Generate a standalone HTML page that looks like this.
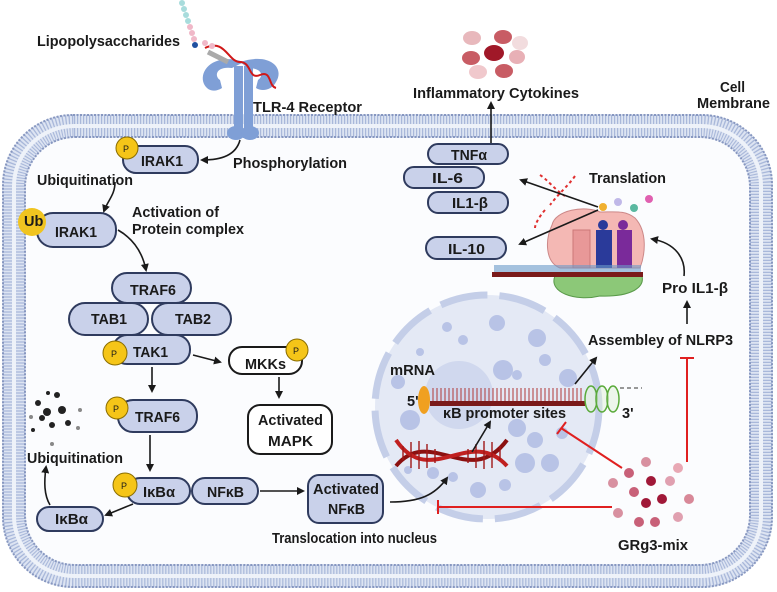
<!DOCTYPE html>
<html><head><meta charset="utf-8"><style>
html,body{margin:0;padding:0;background:#fff}
svg{display:block}
text{font-family:"Liberation Sans",sans-serif;font-weight:bold;fill:#1a1a1a;font-size:14.5px}
.n{fill:#c9d1ea;stroke:#2f3b5e;stroke-width:2}
.w{fill:#fff;stroke:#1a1a1a;stroke-width:2}
.a{stroke:#1a1a1a;stroke-width:1.6;fill:none;marker-end:url(#ah)}
.r{stroke:#e02020;stroke-width:2;fill:none}
.p{fill:#f5c518;stroke:#8a6d00;stroke-width:1}
.pt{font-size:9px;font-weight:normal}
</style></head><body>
<svg width="777" height="592" viewBox="0 0 777 592" xmlns="http://www.w3.org/2000/svg">
<defs>
<marker id="ah" markerWidth="8" markerHeight="8" refX="6" refY="4" orient="auto" markerUnits="userSpaceOnUse"><path d="M0,0 L8,4 L0,8 z" fill="#1a1a1a"/></marker>
</defs>
<!-- membrane -->
<rect x="14" y="126" width="747" height="450" rx="60" fill="#fbfcfe" stroke="#dde4f2" stroke-width="24"/>
<rect x="14" y="126" width="747" height="450" rx="60" fill="none" stroke="#a9b8da" stroke-width="22" stroke-dasharray="1.2 1.8"/>
<rect x="14" y="126" width="747" height="450" rx="60" fill="none" stroke="#eef2f9" stroke-width="4"/>
<rect x="3" y="115" width="769" height="472" rx="70" fill="none" stroke="#8797c0" stroke-width="2" stroke-dasharray="2 1.5"/>
<rect x="25" y="137" width="725" height="428" rx="50" fill="none" stroke="#8797c0" stroke-width="2" stroke-dasharray="2 1.5"/>

<!-- nucleus -->
<circle cx="487" cy="407" r="112" fill="#e4e9f5" stroke="#c4cee8" stroke-width="7" stroke-dasharray="48 12"/>
<circle cx="459" cy="395" r="34" fill="#d0d8ee"/>
<g fill="#b8c3e6">
<circle cx="447" cy="327" r="5"/><circle cx="497" cy="323" r="8"/><circle cx="537" cy="338" r="9"/><circle cx="463" cy="340" r="5"/><circle cx="545" cy="360" r="6"/>
<circle cx="503" cy="370" r="10"/><circle cx="517" cy="375" r="5"/><circle cx="568" cy="378" r="9"/><circle cx="398" cy="382" r="7"/>
<circle cx="410" cy="420" r="10"/><circle cx="517" cy="428" r="9"/><circle cx="535" cy="440" r="8"/><circle cx="562" cy="433" r="6"/>
<circle cx="525" cy="463" r="10"/><circle cx="550" cy="463" r="9"/><circle cx="433" cy="473" r="6"/><circle cx="453" cy="477" r="5"/>
<circle cx="478" cy="490" r="8"/><circle cx="505" cy="485" r="6"/><circle cx="408" cy="470" r="4"/><circle cx="420" cy="352" r="4"/>
</g>
<!-- mRNA in nucleus -->
<rect x="430" y="401" width="155" height="5" fill="#7a1a1a"/>
<g stroke="#b03838" stroke-width="1">
<path d="M433 388v13M437 388v13M441 388v13M445 388v13M449 388v13M453 388v13M457 388v13M461 388v13M465 388v13M469 388v13M473 388v13M477 388v13M481 388v13M485 388v13M489 388v13M493 388v13M497 388v13M501 388v13M505 388v13M509 388v13M513 388v13M517 388v13M521 388v13M525 388v13M529 388v13M533 388v13M537 388v13M541 388v13M545 388v13M549 388v13M553 388v13M557 388v13M561 388v13M565 388v13M569 388v13M573 388v13M577 388v13M581 388v13"/>
</g>
<ellipse cx="424" cy="400" rx="6" ry="14" fill="#f0a020"/>
<g fill="#dff0d8" fill-opacity="0.5" stroke="#5aaa3a" stroke-width="1.5"><ellipse cx="591" cy="399" rx="6" ry="13"/><ellipse cx="602" cy="399" rx="6" ry="13"/><ellipse cx="613" cy="399" rx="6" ry="13"/></g>
<path d="M620 388h22" stroke="#333" stroke-dasharray="4 3"/>
<text x="407" y="406" font-weight="normal" fill="#333">5'</text>
<text x="622" y="418" font-weight="normal" fill="#333">3'</text>
<text x="390" y="375" textLength="45" lengthAdjust="spacingAndGlyphs">mRNA</text>
<text x="443" y="418" textLength="123" lengthAdjust="spacingAndGlyphs">κB promoter sites</text>
<!-- DNA -->
<path d="M396 466 C430 425,470 490,507 440" stroke="#8b1010" stroke-width="4" fill="none"/>
<path d="M396 440 C430 490,470 425,507 466" stroke="#c02020" stroke-width="4" fill="none"/>
<g stroke="#a01818" stroke-width="1.4"><path d="M403 446v14M411 442v26M419 441v28M427 444v24M435 449v14M468 449v14M476 444v24M484 441v28M492 442v26M500 446v14"/></g>
<path class="a" d="M472 452 L490 422"/>
<path class="a" d="M390 502 C420 502,435 495,447 478"/>
<path class="a" d="M575 384 L596 358"/>

<!-- LPS / TLR4 -->
<g fill="#7f9fd6">
<path d="M244 62 C215 52,198 70,204 84 C208 92,216 92,222 88 L220 80 C214 76,216 66,232 68 Z"/>
<path d="M240 62 C270 52,285 68,276 82 C272 90,262 92,256 88 L258 80 C264 76,262 68,248 68 Z"/>
<rect x="234" y="66" width="9" height="65"/><rect x="244" y="66" width="9" height="65"/>
<ellipse cx="236" cy="133" rx="9" ry="7"/><ellipse cx="250" cy="133" rx="9" ry="7"/>
</g>
<path d="M208 52 L228 62" stroke="#aaa" stroke-width="5"/>
<path d="M205 48 C225 38,228 62,240 62 C252 62,248 80,260 75 C272 70,268 86,276 88" stroke="#d01818" stroke-width="2" fill="none"/>
<g fill="#a8dcdc"><circle cx="182" cy="3" r="3"/><circle cx="184" cy="9" r="3"/><circle cx="186" cy="15" r="3"/><circle cx="188" cy="21" r="3"/></g>
<g fill="#f0b8c8"><circle cx="190" cy="27" r="3"/><circle cx="192" cy="33" r="3"/><circle cx="194" cy="39" r="3"/><circle cx="205" cy="43" r="3"/><circle cx="212" cy="46" r="3"/></g>
<circle cx="195" cy="45" r="3" fill="#2050a0"/>
<text x="37" y="46" textLength="143" lengthAdjust="spacingAndGlyphs">Lipopolysaccharides</text>
<text x="253" y="112" textLength="109" lengthAdjust="spacingAndGlyphs">TLR-4 Receptor</text>

<!-- cytokines top -->
<g>
<ellipse cx="472" cy="38" rx="9" ry="7" fill="#e8b8bc"/><ellipse cx="503" cy="37" rx="9" ry="7" fill="#c85c64"/><ellipse cx="520" cy="43" rx="8" ry="7" fill="#f2dcde"/>
<ellipse cx="471" cy="58" rx="9" ry="7" fill="#c85c64"/><ellipse cx="494" cy="53" rx="10" ry="8" fill="#a01828"/><ellipse cx="517" cy="57" rx="8" ry="7" fill="#e8b0b6"/>
<ellipse cx="478" cy="72" rx="9" ry="7" fill="#f0c8cc"/><ellipse cx="504" cy="71" rx="9" ry="7" fill="#c85c64"/>
</g>
<text x="413" y="98" textLength="166" lengthAdjust="spacingAndGlyphs">Inflammatory Cytokines</text>
<path class="a" d="M491 145 L491 103"/>
<text x="720" y="92" textLength="25" lengthAdjust="spacingAndGlyphs">Cell</text>
<text x="697" y="108" textLength="73" lengthAdjust="spacingAndGlyphs">Membrane</text>

<!-- left pathway -->
<path class="a" d="M240 140 C236 155,222 160,202 160"/>
<rect class="n" x="123" y="146" width="75" height="27" rx="13"/><text x="141" y="166" textLength="42" lengthAdjust="spacingAndGlyphs">IRAK1</text>
<circle class="p" cx="127" cy="148" r="11"/><text x="123" y="152" class="pt">P</text>
<text x="233" y="168" textLength="114" lengthAdjust="spacingAndGlyphs">Phosphorylation</text>
<text x="37" y="185" textLength="96" lengthAdjust="spacingAndGlyphs">Ubiquitination</text>
<path class="a" d="M115 182 C115 195,108 200,104 211"/>
<rect class="n" x="37" y="213" width="79" height="34" rx="16"/><text x="55" y="237" textLength="42" lengthAdjust="spacingAndGlyphs">IRAK1</text>
<circle cx="32" cy="222" r="14" fill="#f0c420"/><text x="24" y="226" font-size="10" fill="#fff">Ub</text>
<text x="132" y="217" textLength="87" lengthAdjust="spacingAndGlyphs">Activation of</text>
<text x="132" y="234" textLength="112" lengthAdjust="spacingAndGlyphs">Protein complex</text>
<path class="a" d="M118 230 C132 238,142 250,146 270"/>
<rect class="n" x="112" y="273" width="79" height="30" rx="15"/><text x="130" y="295" textLength="46" lengthAdjust="spacingAndGlyphs">TRAF6</text>
<rect class="n" x="69" y="303" width="79" height="32" rx="16"/><text x="91" y="324" textLength="36" lengthAdjust="spacingAndGlyphs">TAB1</text>
<rect class="n" x="152" y="303" width="79" height="32" rx="16"/><text x="175" y="324" textLength="36" lengthAdjust="spacingAndGlyphs">TAB2</text>
<rect class="n" x="113" y="335" width="77" height="29" rx="14"/><text x="133" y="357" textLength="35" lengthAdjust="spacingAndGlyphs">TAK1</text>
<circle class="p" cx="115" cy="353" r="12"/><text x="111" y="357" class="pt">P</text>
<path class="a" d="M193 355 L220 362"/>
<rect class="w" x="229" y="347" width="73" height="27" rx="13"/><text x="245" y="369" textLength="41" lengthAdjust="spacingAndGlyphs">MKKs</text>
<circle class="p" cx="297" cy="350" r="11"/><text x="293" y="354" class="pt">P</text>
<path class="a" d="M279 377 L279 397"/>
<rect class="w" x="248" y="405" width="84" height="49" rx="12"/><text x="258" y="425" textLength="65" lengthAdjust="spacingAndGlyphs">Activated</text><text x="268" y="446" textLength="45" lengthAdjust="spacingAndGlyphs">MAPK</text>
<path class="a" d="M152 367 L152 391"/>
<rect class="n" x="118" y="400" width="79" height="32" rx="15"/><text x="135" y="422" textLength="45" lengthAdjust="spacingAndGlyphs">TRAF6</text>
<circle class="p" cx="117" cy="408" r="11"/><text x="113" y="412" class="pt">P</text>
<path class="a" d="M150 435 L150 470"/>
<!-- debris -->
<g fill="#222"><circle cx="38" cy="403" r="3"/><circle cx="47" cy="412" r="4"/><circle cx="57" cy="395" r="3"/><circle cx="62" cy="410" r="4"/><circle cx="52" cy="425" r="3"/><circle cx="68" cy="423" r="3"/><circle cx="48" cy="393" r="2"/><circle cx="33" cy="430" r="2"/><circle cx="42" cy="418" r="3"/><circle cx="80" cy="410" r="2" fill="#888"/><circle cx="78" cy="428" r="2" fill="#888"/><circle cx="52" cy="444" r="2" fill="#888"/><circle cx="31" cy="417" r="2" fill="#888"/></g>
<text x="27" y="463" textLength="96" lengthAdjust="spacingAndGlyphs">Ubiquitination</text>
<path class="a" d="M50 505 C44 495,44 482,46 467"/>
<rect class="n" x="127" y="478" width="63" height="26" rx="13"/><text x="143" y="497" textLength="32" lengthAdjust="spacingAndGlyphs">IκBα</text>
<circle class="p" cx="125" cy="485" r="12"/><text x="121" y="489" class="pt">P</text>
<rect class="n" x="192" y="478" width="66" height="26" rx="13"/><text x="207" y="497" textLength="37" lengthAdjust="spacingAndGlyphs">NFκB</text>
<path class="a" d="M133 504 L106 515"/>
<rect class="n" x="37" y="507" width="66" height="24" rx="12"/><text x="55" y="524" textLength="33" lengthAdjust="spacingAndGlyphs">IκBα</text>
<path class="a" d="M260 491 L303 491"/>
<rect class="n" x="308" y="475" width="75" height="48" rx="11"/><text x="313" y="494" textLength="66" lengthAdjust="spacingAndGlyphs">Activated</text><text x="328" y="514" textLength="37" lengthAdjust="spacingAndGlyphs">NFκB</text>
<text x="272" y="543" textLength="165" lengthAdjust="spacingAndGlyphs">Translocation into nucleus</text>

<!-- cytokine pills -->
<rect class="n" x="428" y="144" width="80" height="20" rx="10"/><text x="451" y="160" textLength="36" lengthAdjust="spacingAndGlyphs">TNFα</text>
<rect class="n" x="404" y="167" width="80" height="21" rx="10"/><text x="432" y="183" textLength="31" lengthAdjust="spacingAndGlyphs">IL-6</text>
<rect class="n" x="428" y="192" width="80" height="21" rx="10"/><text x="452" y="208" textLength="36" lengthAdjust="spacingAndGlyphs">IL1-β</text>
<rect class="n" x="426" y="237" width="80" height="22" rx="11"/><text x="448" y="254" textLength="37" lengthAdjust="spacingAndGlyphs">IL-10</text>
<!-- ribosome -->
<path d="M552 225 C555 210,585 205,600 212 C615 212,625 210,635 218 C648 232,645 255,640 268 L560 268 C545 262,545 240,552 225Z" fill="#f4b8b4" stroke="#c88" stroke-width="1"/>
<rect x="573" y="230" width="17" height="38" fill="#e89898" stroke="#c77"/>
<rect x="596" y="230" width="16" height="38" fill="#2a3a9a"/>
<rect x="617" y="230" width="15" height="38" fill="#7a2a9a"/>
<circle cx="603" cy="225" r="5" fill="#2a3a9a"/><circle cx="623" cy="225" r="5" fill="#7a2a9a"/>
<path d="M555 276 C548 292,575 302,600 296 C630 297,645 288,642 276Z" fill="#8cc878" stroke="#5a9a4a"/>
<rect x="492" y="272" width="151" height="5" fill="#7a1a1a"/>
<rect x="494" y="265" width="147" height="7" fill="#6a9ac8" opacity="0.6"/>
<circle cx="603" cy="207" r="4" fill="#f0b030"/><circle cx="618" cy="202" r="4" fill="#c0b8e8"/><circle cx="634" cy="208" r="4" fill="#5ab8a0"/><circle cx="649" cy="199" r="4" fill="#e060b0"/>
<path d="M540 175 C548 180,555 190,565 196 M575 176 C568 186,560 192,550 205 M545 210 C538 218,535 225,535 228" stroke="#e03030" stroke-dasharray="3 3" stroke-width="2" fill="none"/>
<path class="a" d="M598 207 L521 180"/>
<path class="a" d="M598 210 L520 244"/>
<text x="589" y="183" textLength="77" lengthAdjust="spacingAndGlyphs">Translation</text>
<path class="a" d="M684 276 C686 258,675 243,652 239"/>
<text x="662" y="293" textLength="66" lengthAdjust="spacingAndGlyphs">Pro IL1-β</text>
<path class="a" d="M687 324 L687 302"/>
<text x="588" y="345" textLength="145" lengthAdjust="spacingAndGlyphs">Assembley of NLRP3</text>

<!-- GRg3 -->
<g>
<circle cx="646" cy="462" r="5" fill="#d890a0"/><circle cx="678" cy="468" r="5" fill="#e8a8b4"/><circle cx="629" cy="473" r="5" fill="#c86078"/><circle cx="651" cy="481" r="5" fill="#a01838"/>
<circle cx="670" cy="481" r="5" fill="#e0a0b0"/><circle cx="613" cy="483" r="5" fill="#d890a0"/><circle cx="634" cy="492" r="5" fill="#c86078"/><circle cx="646" cy="503" r="5" fill="#a01838"/>
<circle cx="662" cy="499" r="5" fill="#a01838"/><circle cx="689" cy="499" r="5" fill="#d88898"/><circle cx="618" cy="513" r="5" fill="#d890a0"/><circle cx="639" cy="522" r="5" fill="#c86078"/><circle cx="655" cy="522" r="5" fill="#c86078"/><circle cx="678" cy="517" r="5" fill="#e0a0b0"/>
</g>
<text x="618" y="550" textLength="70" lengthAdjust="spacingAndGlyphs">GRg3-mix</text>
<path class="r" d="M687 462 L687 358 M680 358 L694 358"/>
<path class="r" d="M622 468 L561 428 M557 434 L566 422"/>
<path class="r" d="M612 507 L438 507 M438 500 L438 514"/>
</svg>
</body></html>
